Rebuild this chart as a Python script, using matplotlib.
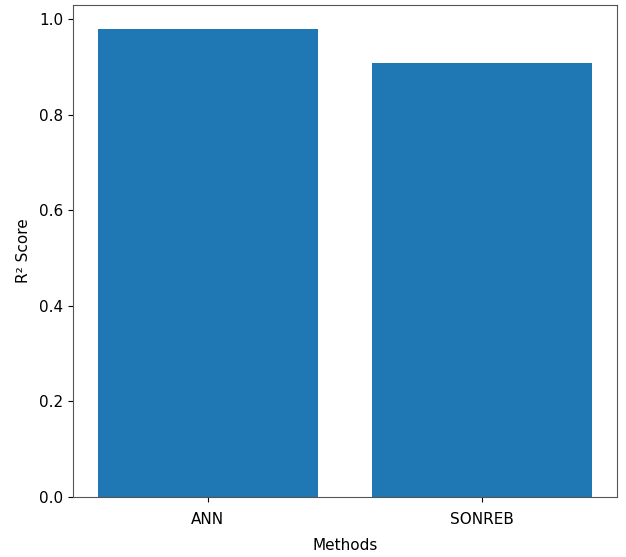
import matplotlib
matplotlib.use("Agg")
import matplotlib.pyplot as plt

methods = ["ANN", "SONREB"]
r2_scores = [0.980, 0.907]

plt.rcParams["font.size"] = 11
DPI = 100
fig = plt.figure(figsize=(626 / DPI, 557 / DPI), dpi=DPI)
ax = fig.add_axes([0.1166, 0.1077, 0.869, 0.883])
ax.bar(methods, r2_scores, color="#1f77b4")
ax.tick_params(axis="x", pad=7.5)
ax.tick_params(axis="y", pad=3.5)
ax.set_xlabel("Methods", labelpad=8)
ax.set_ylabel("R² Score", labelpad=6)
for sp in ax.spines.values():
    sp.set_color("#555555")
fig.savefig("out.png", dpi=DPI)
